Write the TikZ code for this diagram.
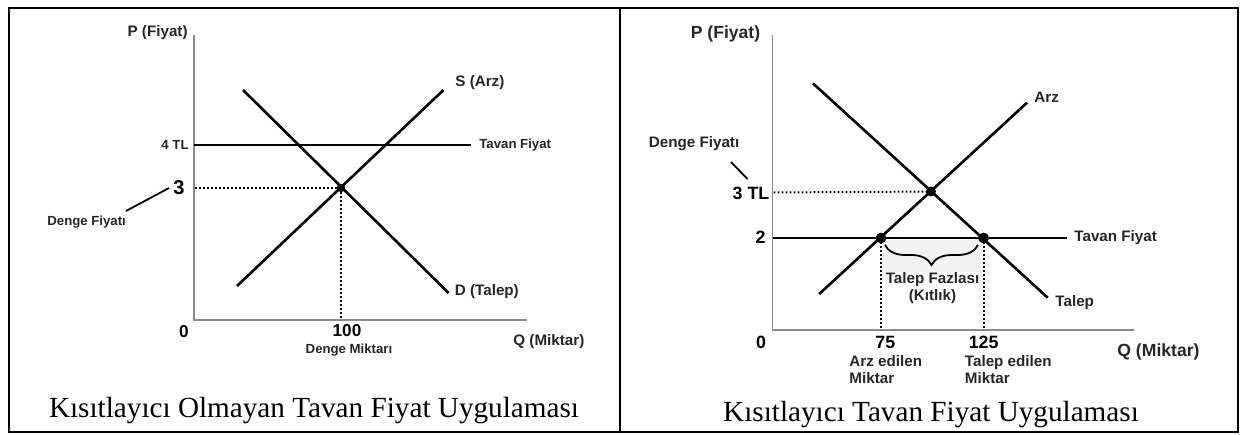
\documentclass[tikz,border=0pt]{standalone}
\usepackage{fontspec}
\setmainfont{Liberation Serif}
\newfontfamily\arialf{Liberation Sans}
\usetikzlibrary{decorations.pathreplacing}
\begin{document}
\begin{tikzpicture}[x=0.5pt,y=-0.5pt,
  curve/.style={line width=1.3pt, black},
  axisline/.style={line width=0.8pt, black!45},
  frameline/.style={line width=1.1pt, black},
  dotline/.style={line width=1pt, dash pattern=on 0.9pt off 1.1pt, black},
  leader/.style={line width=0.9pt, black},
  lblL/.style={font=\arialf\bfseries\fontsize{7.6}{9}\selectfont, inner sep=0pt, text=black!85},
  smlL/.style={font=\arialf\bfseries\fontsize{6.6}{8}\selectfont, inner sep=0pt, text=black!85},
  numL/.style={font=\arialf\bfseries\fontsize{8.6}{10}\selectfont, inner sep=0pt, text=black},
  lblR/.style={font=\arialf\bfseries\fontsize{8.8}{10}\selectfont, inner sep=0pt, text=black!85},
  smlR/.style={font=\arialf\bfseries\fontsize{7.6}{8.6}\selectfont, inner sep=0pt, text=black!85, align=left},
  numR/.style={font=\arialf\bfseries\fontsize{8.9}{10}\selectfont, inner sep=0pt, text=black},
  capt/.style={font=\fontsize{14.6}{16}\selectfont, inner sep=0pt},
  eqdot/.style={circle, fill=black, inner sep=0pt, minimum size=#1},
]
\useasboundingbox (0,0) rectangle (1241,434);
% frame
\coordinate (F1) at (9,8);
\coordinate (F2) at (1238,432);
\coordinate (D1) at (620,8);
\coordinate (D2) at (620,432);
\draw[frameline] (F1) rectangle (F2);
\draw[frameline] (D1) -- (D2);

%% ---------------- LEFT PANEL ----------------
\coordinate (LyTop) at (194,35);
\coordinate (LO) at (194,320);
\coordinate (LxEnd) at (527,320);
\draw[axisline] (LyTop) -- (LO) -- (LxEnd);

\node[lblL, anchor=east] (LP) at (188,33) {P (Fiyat)};
\node[lblL, anchor=west] (LQ) at (513,342) {Q (Miktar)};
\node[numL] (L0lbl) at (184,332) {0};

% ceiling
\coordinate (LtA) at (194,145);
\coordinate (LtB) at (471,145);
\draw[curve] (LtA) -- (LtB);
\node[smlL, anchor=east] (L4) at (189,145) {4 TL};
\node[smlL, anchor=west] (LTav) at (479,145) {Tavan Fiyat};

% supply and demand
\coordinate (LSa) at (237,286);
\coordinate (LSb) at (443.5,90);
\coordinate (LDa) at (243,90);
\coordinate (LDb) at (448.6,293);
\draw[curve] (LSa) -- (LSb);
\draw[curve] (LDa) -- (LDb);
\node[lblL, anchor=west] (LS) at (455,83) {S (Arz)};
\node[lblL, anchor=west] (LD) at (454.5,292) {D (Talep)};

% equilibrium
\node[eqdot=4.2pt] (LE) at (341,188) {};
\coordinate (LEy) at (195,188);
\coordinate (LEx) at (341,320);
\draw[dotline] (LEy) -- (LE.center);
\draw[dotline] (LE.center) -- (LEx);
\node[numL, font=\arialf\bfseries\fontsize{10}{11}\selectfont, anchor=east] (L3) at (185,188) {3};
\node[smlL, anchor=west] (LDF) at (47,222) {Denge Fiyatı};
\coordinate (LldA) at (126,211);
\coordinate (LldB) at (169,188);
\draw[leader] (LldA) -- (LldB);
\node[numL] (L100) at (347,331) {100};
\node[smlL] (LDM) at (349,350) {Denge Miktarı};

\node[capt] (Lcap) at (314,411) {Kısıtlayıcı Olmayan Tavan Fiyat Uygulaması};

%% ---------------- RIGHT PANEL ----------------
\coordinate (RyTop) at (772.5,35);
\coordinate (RO) at (772.5,330);
\coordinate (RxEnd) at (1134,330);

% shaded shortage area
\fill[black!5] (883,240) rectangle (981,272);

\draw[axisline] (RyTop) -- (RO) -- (RxEnd);
\node[lblR, anchor=east] (RP) at (760.6,34) {P (Fiyat)};
\node[lblR, anchor=west] (RQ) at (1117,352) {Q (Miktar)};
\node[numR] (R0lbl) at (761,342) {0};

% ceiling
\coordinate (RtA) at (772.5,238);
\coordinate (RtB) at (1066.7,238);
\draw[curve] (RtA) -- (RtB);
\node[smlR, anchor=west] (RTav) at (1074,238) {Tavan Fiyat};
\node[numR, anchor=east] (R2) at (766,237) {2};

% supply and demand
\coordinate (RSa) at (819.2,294);
\coordinate (RSb) at (1027,102.7);
\coordinate (RDa) at (812.9,83.3);
\coordinate (RDb) at (1047.7,297.7);
\draw[curve] (RSa) -- (RSb);
\draw[curve] (RDa) -- (RDb);
\node[smlR, anchor=west] (RArz) at (1034,97) {Arz};
\node[smlR, anchor=west] (RTalep) at (1055,302.7) {Talep};

% equilibrium
\node[eqdot=5pt] (RE) at (931,191.5) {};
\coordinate (REy) at (773.5,192.5);
\draw[dotline] (REy) -- (RE.center);
\node[numR, anchor=east] (R3) at (769.7,193) {3 TL};
\node[smlR, anchor=west] (RDF) at (648.5,144) {Denge Fiyatı};
\coordinate (RldA) at (731,162);
\coordinate (RldB) at (747.5,179);
\draw[leader] (RldA) -- (RldB);

% ceiling intersections
\node[eqdot=5.4pt] (RQs) at (881,238) {};
\node[eqdot=5.4pt] (RQd) at (983.6,238) {};
\coordinate (RQsx) at (881,330);
\coordinate (RQdx) at (983.6,330);
\draw[dotline] (RQs.center) -- (RQsx);
\draw[dotline] (RQd.center) -- (RQdx);

% brace
\coordinate (RBa) at (885,245);
\coordinate (RBb) at (978,245);
\draw[line width=0.9pt, decorate, decoration={brace, mirror, amplitude=10pt}] (RBa) -- (RBb);
\node[smlR, align=center] (RTF) at (932.5,288) {Talep Fazlası\\(Kıtlık)};

\node[numR] (R75) at (885.3,342) {75};
\node[numR] (R125) at (983.6,342) {125};
\node[smlR, anchor=north west] (RAe) at (849,355) {Arz edilen\\Miktar};
\node[smlR, anchor=north west] (RTe) at (964.5,355) {Talep edilen\\Miktar};

\node[capt] (Rcap) at (931,415) {Kısıtlayıcı Tavan Fiyat Uygulaması};
\end{tikzpicture}
\end{document}
